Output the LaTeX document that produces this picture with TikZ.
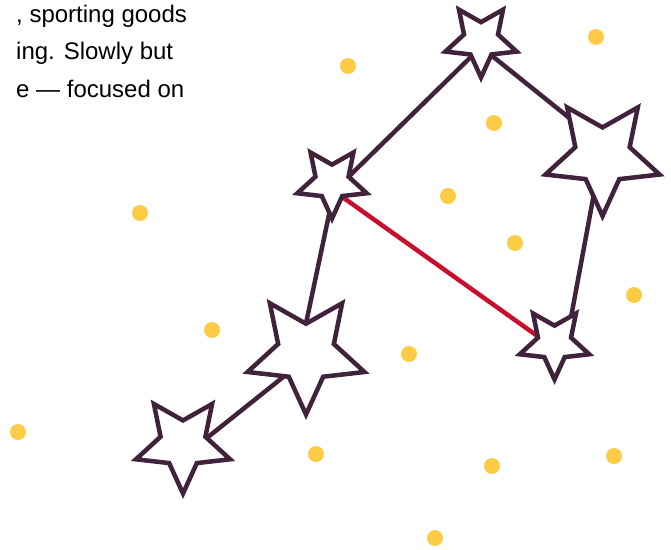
\documentclass[tikz,border=0pt]{standalone}
\usepackage{fontspec}
\setmainfont{Liberation Sans}
\usepackage{xcolor}
\usetikzlibrary{shapes.geometric}
\definecolor{plum}{HTML}{40233A}
\definecolor{crimson}{HTML}{C8102E}
\definecolor{sun}{HTML}{FDCC47}
\begin{document}
\begin{tikzpicture}[x=1pt, y=-1pt,
    starnode/.style={star, star points=5, star point ratio=2.1, shape border rotate=180,
                     draw=plum, fill=white, line width=4.5pt, inner sep=0pt},
    link/.style={draw=plum, line width=4.5pt},
    redlink/.style={draw=crimson, line width=4.5pt},
    para/.style={font=\fontsize{24}{37.5}\selectfont, inner sep=0pt, anchor=base west}
]
\useasboundingbox (0,0) rectangle (671,549);

\node[para] (LineOne) at (16,22) {, sporting goods};
\node[para] (LineTwo) at (16,59.5) {ing. Slowly but};
\node[para] (LineThree) at (16,97) {e — focused on};

\foreach \x/\y in {348/66, 596/37, 494/123, 448/196, 515/243, 140/213, 634/295,
                   212/330, 409/354, 18/432, 316/454, 492/466, 614/456, 435/538}
    \fill[sun] (\x,\y) circle (8);

\coordinate (TopPt) at (481,47);
\coordinate (RightPt) at (603,145);
\coordinate (LeftPt) at (334,191);
\coordinate (MidPt) at (297,366);
\coordinate (LowPt) at (183,457);
\coordinate (SidePt) at (564,355);

\draw[link] (TopPt) -- (LeftPt);
\draw[link] (TopPt) -- (RightPt);
\draw[link] (RightPt) -- (SidePt);
\draw[link] (LeftPt) -- (MidPt);
\draw[link] (MidPt) -- (LowPt);
\draw[redlink] (LeftPt) -- (SidePt);

\node[starnode, minimum size=75pt] (TopStar) at (481,40) {};
\node[starnode, minimum size=120pt] (RightStar) at (602.5,156) {};
\node[starnode, minimum size=73pt] (LeftStar) at (332,182) {};
\node[starnode, minimum size=123pt] (MidStar) at (306,353) {};
\node[starnode, minimum size=99pt] (LowStar) at (183,444) {};
\node[starnode, minimum size=73pt] (SideStar) at (554.5,343) {};

\end{tikzpicture}
\end{document}
